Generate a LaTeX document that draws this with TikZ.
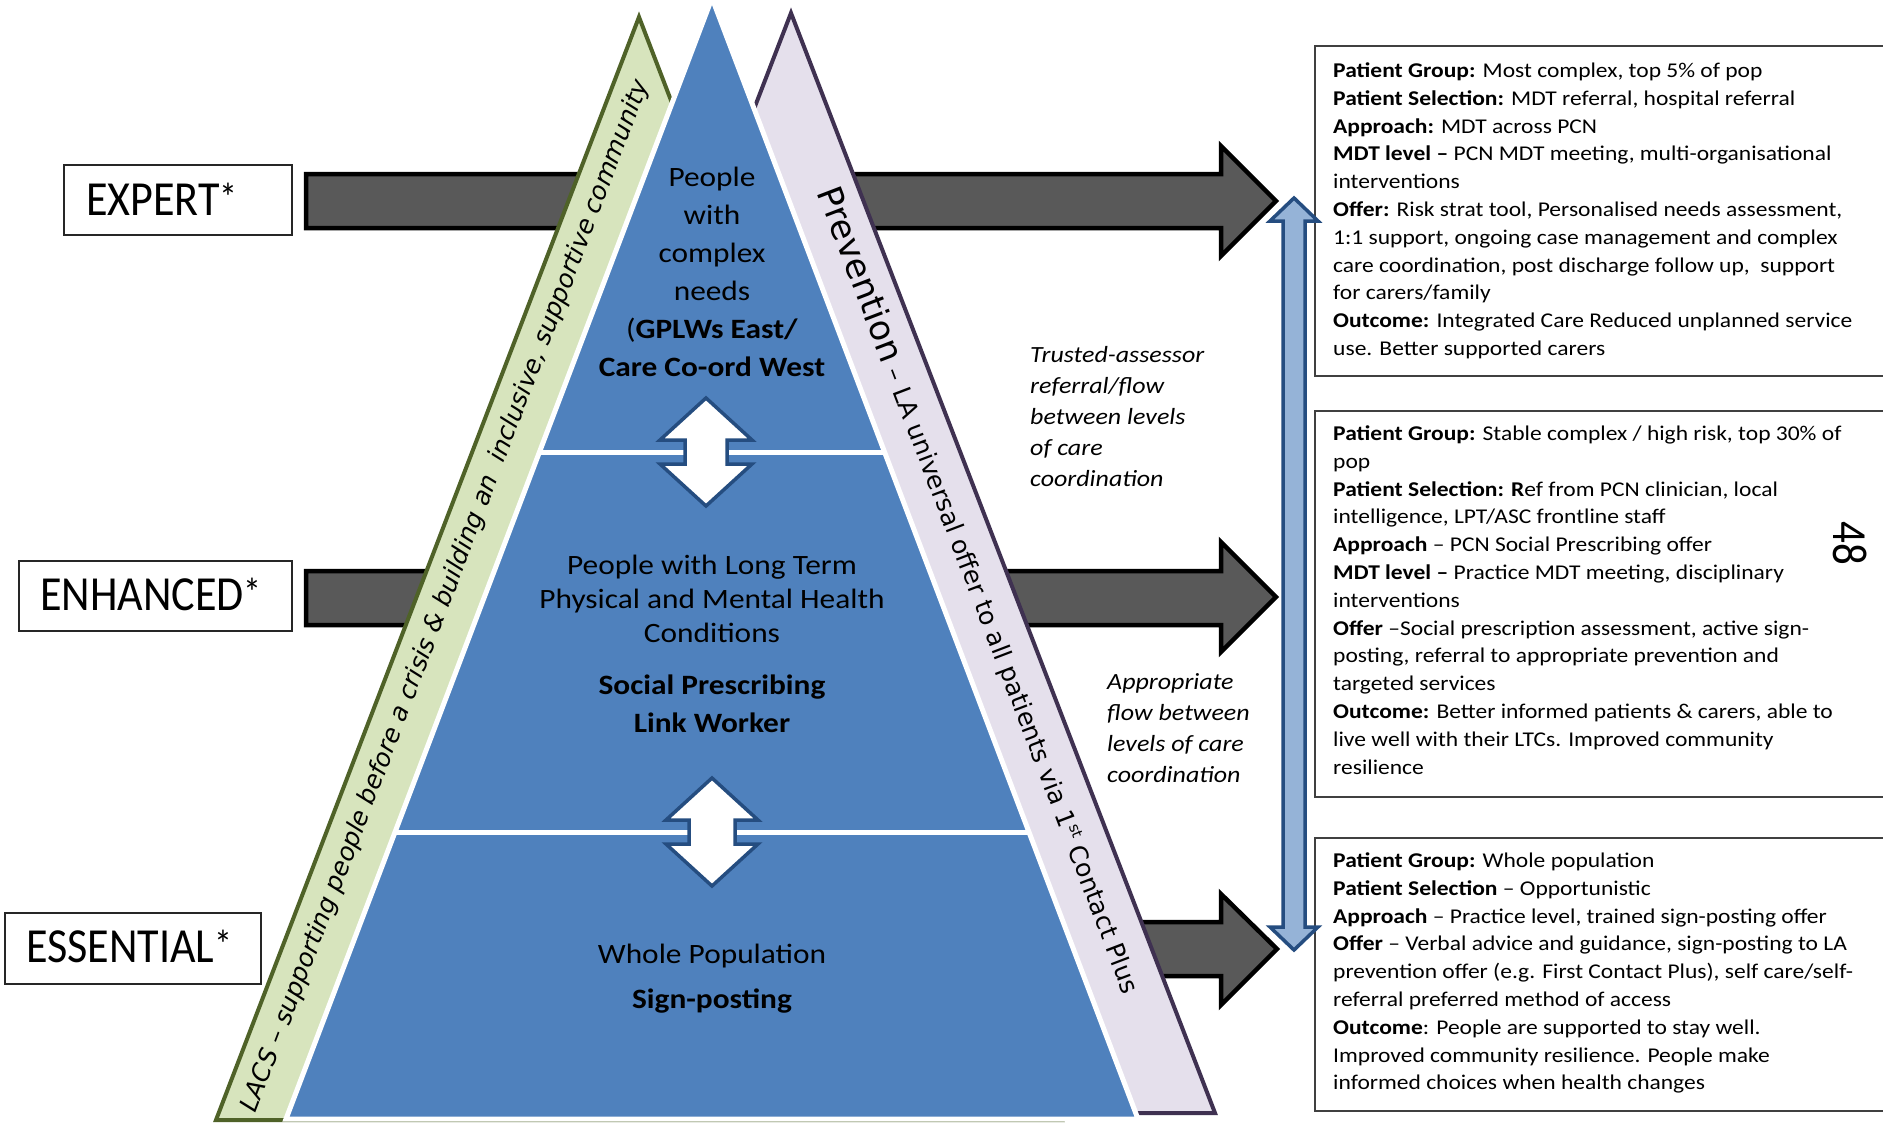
\documentclass[tikz,border=0pt]{standalone}
\usepackage{fontspec}
\usepackage{graphicx}
\setmainfont{Carlito}[FakeStretch=1.12]
\newfontfamily\lblfont{Carlito}[FakeStretch=0.9]
\newfontfamily\plainfont{Carlito}
\newfontfamily\vfont{DejaVu Sans}
\definecolor{pyrblue}{HTML}{4F81BD}
\definecolor{lacsfill}{HTML}{D7E4BD}
\definecolor{lacsline}{HTML}{4F6228}
\definecolor{prevfill}{HTML}{E5E0EC}
\definecolor{prevline}{HTML}{3F3151}
\definecolor{arrgray}{HTML}{595959}
\definecolor{vfill}{HTML}{95B3D7}
\definecolor{darkblue}{HTML}{254D80}
\tikzset{
  bigarrow/.style={fill=arrgray, draw=black, line width=4.5pt, line join=miter},
  dblarrow/.style={fill=white, draw=darkblue, line width=3.5pt, line join=miter},
  vertarrow/.style={fill=vfill, draw=darkblue, line width=3.5pt, line join=miter},
  lblbox/.style={draw=black!85, line width=1.8pt, fill=white, inner sep=0pt, minimum height=70pt},
  infobox/.style={draw=black!75, line width=2.2pt, fill=white, inner sep=0pt, anchor=north west, minimum width=620pt},
  txt/.style={inner sep=0pt}
}
\begin{document}
\begin{tikzpicture}[x=1pt,y=-1pt]
\useasboundingbox (0,0) rectangle (1883,1124);
\fill[white] (0,0) rectangle (1883,1124);

% big grey arrows (behind pyramid)
\draw[bigarrow] (306,174) -- (1221,174) -- (1221,146) -- (1276,201) -- (1221,256) -- (1221,228) -- (306,228) -- cycle;
\draw[bigarrow] (306,571) -- (1221,571) -- (1221,542) -- (1276,597) -- (1221,652) -- (1221,625) -- (306,625) -- cycle;
\draw[bigarrow] (306,922) -- (1221,922) -- (1221,894) -- (1277,949) -- (1221,1005) -- (1221,976) -- (306,976) -- cycle;

% side bands
\draw[fill=lacsfill, draw=lacsline, line width=4pt, line join=miter] (639,17) -- (1062,1120) -- (216,1120) -- cycle;
\draw[fill=prevfill, draw=prevline, line width=4pt, line join=miter] (791,13) -- (1215,1113) -- (367,1113) -- cycle;

% pyramid
\draw[fill=pyrblue, draw=white, line width=5pt, line join=miter] (712,-2) -- (1138,1119) -- (286,1119) -- cycle;
\draw[white, line width=5pt] (539,452) -- (885,452);
\draw[white, line width=5pt] (395,832) -- (1029,832);

% level double arrows
\draw[dblarrow] (706,398) -- (752,440) -- (727,440) -- (727,464) -- (752,464) -- (706,506) -- (660,464) -- (685,464) -- (685,440) -- (660,440) -- cycle;
\draw[dblarrow] (712,778) -- (758,820) -- (735,820) -- (735,844) -- (758,844) -- (712,886) -- (666,844) -- (689,844) -- (689,820) -- (666,820) -- cycle;

% pyramid texts
\node[txt, anchor=base] (tiertop) at (712,186.5) {\parbox[t]{330pt}{\centering\fontsize{28}{38}\selectfont
People\\with\\complex\\needs\\(\textbf{GPLWs East/}\\\textbf{Care Co-ord West}}};
\node[txt, anchor=base] (tiermid) at (712,574.5) {\parbox[t]{420pt}{\centering\fontsize{28}{34}\selectfont
People with Long Term\\Physical and Mental Health\\Conditions\\[18.3pt]\textbf{Social Prescribing}\\[3.7pt]\textbf{Link Worker}}};
\node[txt, anchor=base] (tierbot) at (712,963) {\parbox[t]{420pt}{\centering\fontsize{28}{34}\selectfont
Whole Population\\[11pt]\textbf{Sign-posting}}};

% band texts
\node[txt, rotate=69.1] (lacs) at (446,596) {\vfont\itshape\fontsize{25}{26}\selectfont LACS – supporting people before a crisis \& building an\ \ inclusive, supportive community};
\node[txt, rotate=-69.1] (prev) at (980,590) {\vfont\fontsize{34.5}{36}\selectfont Prevention\fontsize{25}{26}\selectfont{} – LA universal offer to all patients via 1\raisebox{9pt}{\fontsize{15}{15}\selectfont st} Contact Plus};

% flow notes
\node[txt, anchor=base west] (trusted) at (1030,362) {\parbox[t]{220pt}{\raggedright\fontsize{23.2}{31.2}\selectfont\itshape
Trusted-assessor\\referral/flow\\between levels\\of care\\coordination}};
\node[txt, anchor=base west] (approp) at (1107,689) {\parbox[t]{220pt}{\raggedright\fontsize{23.2}{31}\selectfont\itshape
Appropriate\\flow between\\levels of care\\coordination}};

% level labels
\node[lblbox, minimum width=228pt] (expbox) at (178,200) {};
\node[txt, anchor=base west] (exptxt) at (86,215) {\lblfont\fontsize{49}{49}\selectfont EXPERT\raisebox{4pt}{\fontsize{40}{40}\selectfont *}};
\node[lblbox, minimum width=273pt] (enhbox) at (155.5,596) {};
\node[txt, anchor=base west] (enhtxt) at (40,610) {\lblfont\fontsize{49}{49}\selectfont ENHANCED\raisebox{4pt}{\fontsize{40}{40}\selectfont *}};
\node[lblbox, minimum width=256pt, minimum height=71pt] (essbox) at (133,948.5) {};
\node[txt, anchor=base west] (esstxt) at (26,962) {\lblfont\fontsize{49}{49}\selectfont ESSENTIAL\raisebox{4pt}{\fontsize{40}{40}\selectfont *}};

% info boxes
\node[infobox, minimum height=330pt] (box1) at (1314,45) {};
\node[infobox, minimum height=386pt] (box2) at (1314,410) {};
\node[infobox, minimum height=273pt] (box3) at (1314,837) {};

\node[txt, anchor=base west] (text1) at (1333,77.5) {\parbox[t]{600pt}{\raggedright\fontsize{21}{27.8}\selectfont
\textbf{Patient Group:} Most complex, top 5\% of pop\\
\textbf{Patient Selection:} MDT referral, hospital referral\\
\textbf{Approach:} MDT across PCN\\
\textbf{MDT level –} PCN MDT meeting, multi-organisational\\
interventions\\
\textbf{Offer:} Risk strat tool, Personalised needs assessment,\\
1:1 support, ongoing case management and complex\\
care coordination, post discharge follow up,\ \ support\\
for carers/family\\
\textbf{Outcome:} Integrated Care Reduced unplanned service\\
use. Better supported carers}};

\node[txt, anchor=base west] (text2) at (1333,440.5) {\parbox[t]{600pt}{\raggedright\fontsize{21}{27.8}\selectfont
\textbf{Patient Group:} Stable complex / high risk, top 30\% of\\
pop\\
\textbf{Patient Selection: R}ef from PCN clinician, local\\
intelligence, LPT/ASC frontline staff\\
\textbf{Approach} – PCN Social Prescribing offer\\
\textbf{MDT level –} Practice MDT meeting, disciplinary\\
interventions\\
\textbf{Offer} –Social prescription assessment, active sign-\\
posting, referral to appropriate prevention and\\
targeted services\\
\textbf{Outcome:} Better informed patients \& carers, able to\\
live well with their LTCs. Improved community\\
resilience}};

\node[txt, anchor=base west] (text3) at (1333,867.5) {\parbox[t]{600pt}{\raggedright\fontsize{21}{27.8}\selectfont
\textbf{Patient Group:} Whole population\\
\textbf{Patient Selection} – Opportunistic\\
\textbf{Approach} – Practice level, trained sign-posting offer\\
\textbf{Offer} – Verbal advice and guidance, sign-posting to LA\\
prevention offer (e.g. First Contact Plus), self care/self-\\
referral preferred method of access\\
\textbf{Outcome}: People are supported to stay well.\\
Improved community resilience. People make\\
informed choices when health changes}};

% vertical flow arrow
\draw[vertarrow] (1294,198) -- (1318,221) -- (1305,221) -- (1305,927) -- (1318,927) -- (1294,950) -- (1270,927) -- (1283,927) -- (1283,221) -- (1270,221) -- cycle;

% page number
\node[txt, rotate=-90] (pagenum) at (1850,543) {\plainfont\scalebox{1}[1.14]{\fontsize{43}{43}\selectfont 48}};
\end{tikzpicture}
\end{document}
